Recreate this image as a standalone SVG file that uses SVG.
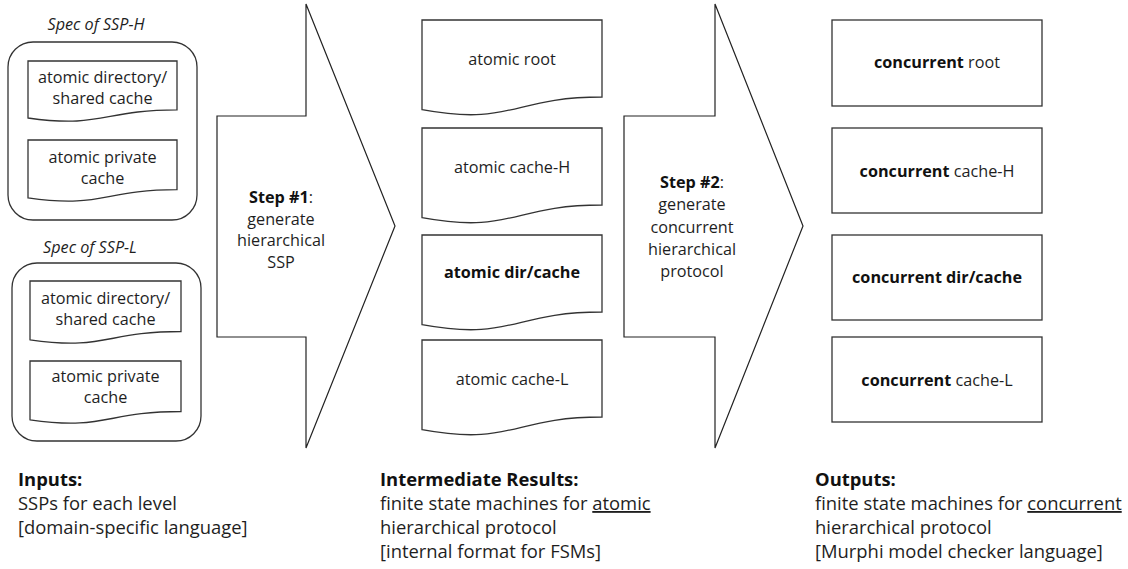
<svg xmlns="http://www.w3.org/2000/svg" width="1128" height="569" viewBox="0 0 1128 569">
<style>
.sh{fill:#fff;stroke:#333;stroke-width:1.3}
.ar{fill:#fff;stroke:#222;stroke-width:1.2;stroke-linejoin:miter}
text{font-family:"Open Sans","Noto Sans","Liberation Sans",sans-serif;fill:#1e1e1e}
.t{font-size:16.2px;text-anchor:middle}
.it{font-style:italic}
.b{font-weight:bold;fill:#111}
.bt{font-size:18.4px}
.u{text-decoration:underline}
</style>
<rect width="1128" height="569" fill="#fff"/>

<g id="spec-h">
<text class="t it" x="96" y="30">Spec of SSP-H</text>
<rect class="sh" x="8" y="42" width="189" height="178" rx="25"/>
</g>
<g id="h-dir">
<path class="sh" d="M28,61 H177 V109.9 C102.5,109.9 102.5,128.5 28,118 Z"/>
<text class="t" x="102.5" y="83">atomic directory/</text>
<text class="t" x="102.5" y="104">shared cache</text>
</g>
<g id="h-priv">
<path class="sh" d="M28,140 H177 V189.7 C102.5,189.7 102.5,208.6 28,197.9 Z"/>
<text class="t" x="102.5" y="163">atomic private</text>
<text class="t" x="102.5" y="184">cache</text>
</g>

<g id="spec-l">
<text class="t it" x="90" y="253">Spec of SSP-L</text>
<rect class="sh" x="12" y="263" width="189" height="178" rx="25"/>
</g>
<g id="l-dir">
<path class="sh" d="M30,281 H181 V331.5 C105.5,331.5 105.5,350.7 30,339.8 Z"/>
<text class="t" x="105.5" y="304">atomic directory/</text>
<text class="t" x="105.5" y="325">shared cache</text>
</g>
<g id="l-priv">
<path class="sh" d="M30,361 H181 V411.5 C105.5,411.5 105.5,430.7 30,419.8 Z"/>
<text class="t" x="105.5" y="382">atomic private</text>
<text class="t" x="105.5" y="403">cache</text>
</g>

<g id="step1">
<polygon class="ar" points="217,116 306,116 306,4 395,226 306,448 306,337 217,337"/>
<text class="t" x="281" y="203"><tspan class="b">Step #1</tspan>:</text>
<text class="t" x="281" y="225">generate</text>
<text class="t" x="281" y="246">hierarchical</text>
<text class="t" x="281" y="268">SSP</text>
</g>

<g id="a-root">
<path class="sh" d="M422,20 H602 V97 C512,97 512,126.3 422,109.7 Z"/>
<text class="t" x="512" y="65">atomic root</text>
</g>
<g id="a-cache-h">
<path class="sh" d="M422,128 H602 V205 C512,205 512,234.3 422,217.7 Z"/>
<text class="t" x="512" y="173">atomic cache-H</text>
</g>
<g id="a-dir">
<path class="sh" d="M422,235 H602 V312 C512,312 512,341.3 422,324.7 Z"/>
<text class="t b" x="512" y="278">atomic dir/cache</text>
</g>
<g id="a-cache-l">
<path class="sh" d="M422,340 H602 V417 C512,417 512,446.3 422,429.7 Z"/>
<text class="t" x="512" y="385">atomic cache-L</text>
</g>

<g id="step2">
<polygon class="ar" points="624,116 715,116 715,4 803,226 715,448 715,337 624,337"/>
<text class="t" x="692" y="188"><tspan class="b">Step #2</tspan>:</text>
<text class="t" x="692" y="210">generate</text>
<text class="t" x="692" y="233">concurrent</text>
<text class="t" x="692" y="255">hierarchical</text>
<text class="t" x="692" y="277">protocol</text>
</g>

<g id="c-root">
<rect class="sh" x="832" y="20" width="210" height="86"/>
<text class="t" x="937" y="68"><tspan class="b">concurrent</tspan> root</text>
</g>
<g id="c-cache-h">
<rect class="sh" x="832" y="128" width="210" height="85"/>
<text class="t" x="937" y="177"><tspan class="b">concurrent</tspan> cache-H</text>
</g>
<g id="c-dir">
<rect class="sh" x="832" y="235" width="210" height="85"/>
<text class="t b" x="937" y="283">concurrent dir/cache</text>
</g>
<g id="c-cache-l">
<rect class="sh" x="832" y="337" width="210" height="85"/>
<text class="t" x="937" y="386"><tspan class="b">concurrent</tspan> cache-L</text>
</g>

<g id="connectors"/>

<g id="legend-inputs">
<text class="bt b" x="18" y="486">Inputs:</text>
<text class="bt" x="18" y="510">SSPs for each level</text>
<text class="bt" x="18" y="534">[domain-specific language]</text>
</g>
<g id="legend-intermediate">
<text class="bt b" x="380" y="486">Intermediate Results:</text>
<text class="bt" x="380" y="510">finite state machines for <tspan class="u">atomic</tspan></text>
<text class="bt" x="380" y="534">hierarchical protocol</text>
<text class="bt" x="380" y="558">[internal format for FSMs]</text>
</g>
<g id="legend-outputs">
<text class="bt b" x="815" y="486">Outputs:</text>
<text class="bt" x="815" y="510">finite state machines for <tspan class="u">concurrent</tspan></text>
<text class="bt" x="815" y="534">hierarchical protocol</text>
<text class="bt" x="815" y="558">[Murphi model checker language]</text>
</g>
</svg>
